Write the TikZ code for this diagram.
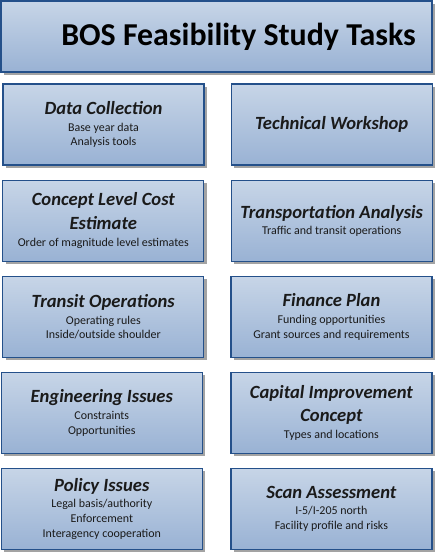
\documentclass[tikz,border=0pt]{standalone}
\usepackage{fontspec}
\setmainfont{Carlito}
\usetikzlibrary{shadows}
\definecolor{bordc}{HTML}{24508A}
\definecolor{topc}{HTML}{C7D5E7}
\definecolor{botc}{HTML}{99B2D4}
\definecolor{shc}{HTML}{A3A3A3}
\definecolor{subc}{HTML}{1A1A1A}
\newcommand{\hd}[1]{{\fontsize{18.7}{21.7}\selectfont\bfseries\itshape #1}}
\tikzset{
  taskbox/.style={draw=bordc, line width=1.3bp, top color=topc, bottom color=botc,
    drop shadow={shadow xshift=3bp, shadow yshift=-3bp, opacity=1, fill=shc},
    align=center, inner sep=0pt, text=subc,
    font=\fontsize{12}{14.7}\selectfont},
  cell/.style={taskbox, minimum width=201bp, minimum height=81bp},
}
\begin{document}
\begin{tikzpicture}[x=1bp,y=1bp]
\useasboundingbox (0,0) rectangle (435,552);
% title
\node[taskbox, minimum width=431bp, minimum height=71bp] (title) at (216.5,515.5) {};
\node[font=\fontsize{32}{38}\selectfont\bfseries, text=black, anchor=center] (titletext) at (238.5,515) {BOS Feasibility Study Tasks};
% row 1
\node[cell] (dc) at (103.5,427.5) {\hd{Data Collection}\\[2pt]Base year data\\Analysis tools};
\node[cell] (tw) at (331.7,427.5) {\hd{Technical Workshop}};
% row 2
\node[cell] (cl) at (103.3,331.2) {\hd{Concept Level Cost}\\[7pt]\hd{Estimate}\\[2pt]Order of magnitude level estimates};
\node[cell] (ta) at (331.7,331.2) {\hd{Transportation Analysis}\\[2pt]Traffic and transit operations};
% row 3
\node[cell] (to) at (103.3,235) {\hd{Transit Operations}\\[2pt]Operating rules\\Inside/outside shoulder};
\node[cell] (fp) at (331.5,235) {\hd{Finance Plan}\\[2pt]Funding opportunities\\Grant sources and requirements};
% row 4
\node[cell] (ei) at (101.8,139.2) {\hd{Engineering Issues}\\[2pt]Constraints\\Opportunities};
\node[cell] (ci) at (331.4,139.2) {\hd{Capital Improvement}\\[7pt]\hd{Concept}\\[2pt]Types and locations};
% row 5
\node[cell] (pi) at (101.8,43.2) {\hd{Policy Issues}\\[2pt]Legal basis/authority\\Enforcement\\Interagency cooperation};
\node[cell] (sa) at (331.4,43.2) {\hd{Scan Assessment}\\[2pt]I-5/I-205 north\\Facility profile and risks};
\end{tikzpicture}
\end{document}
